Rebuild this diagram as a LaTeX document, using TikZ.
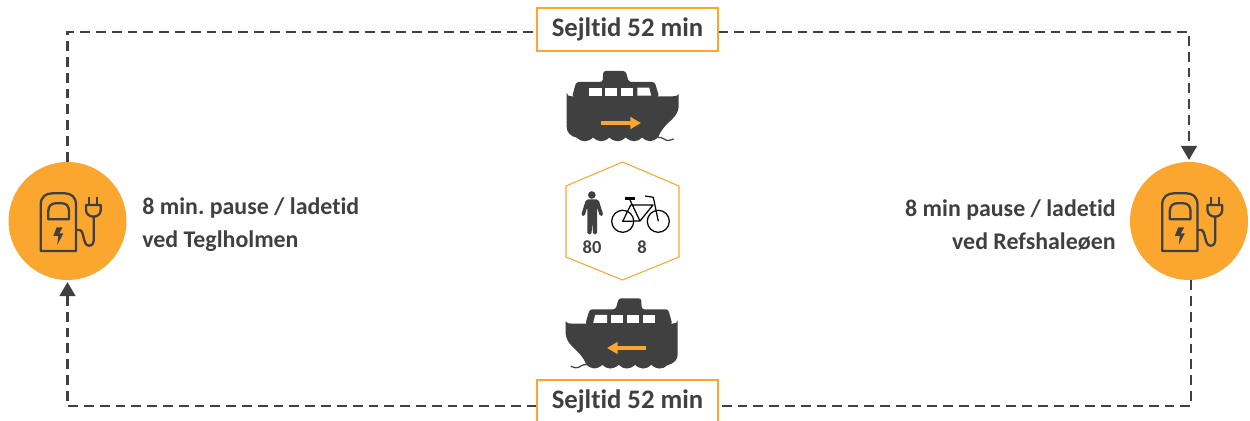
\documentclass[tikz,border=0pt]{standalone}
\usepackage{fontspec}
\setmainfont{Carlito}[Ligatures=NoCommon]
\usepackage{tikz}
\usetikzlibrary{arrows.meta}
\definecolor{ferrygrey}{HTML}{404040}
\definecolor{ferryorange}{HTML}{FBA72F}
\tikzstyle{chargenode} = [circle, fill=ferryorange, minimum size=2.36cm, inner sep=0pt]
\tikzstyle{timenode} = [draw=ferryorange, fill=white, line width=0.6pt, minimum width=3.62cm, minimum height=0.86cm, inner sep=0pt, text=ferrygrey, font=\fontsize{15.2}{18}\selectfont\bfseries]
\tikzstyle{pausenode} = [inner sep=0pt, text=ferrygrey, font=\fontsize{13.6}{18.8}\selectfont\bfseries\frenchspacing]
\tikzstyle{countnode} = [inner sep=0pt, text=ferrygrey, font=\fontsize{10.5}{12}\selectfont\bfseries]
\tikzstyle{routeline} = [draw=ferrygrey, line width=1.3pt, dash pattern=on 5.6pt off 3.4pt, -{Triangle[length=8pt,width=9pt]}]
\tikzstyle{routeplain} = [draw=ferrygrey, line width=1.3pt, dash pattern=on 5.6pt off 3.4pt]
\tikzstyle{boatarrow} = [draw=ferryorange, line width=2.3pt, -{Triangle[length=6pt,width=6.5pt]}]
\tikzset{
  boat/.pic={
    \fill[ferrygrey] (0,22) .. controls (0.5,24.5) and (2,25.3) .. (5,25.3) -- (106,25.3) .. controls (109,25.3) and (111,25) .. (112,23)
      -- (112,35.7) .. controls (111,46) and (102,50) .. (96.6,57.3) .. controls (94,60) and (93,63) .. (91.6,66)
      .. controls (86,71.5) and (81,71.5) .. (75.3,66.5) .. controls (70,71.5) and (65,71.5) .. (59,66.5)
      .. controls (54,71.5) and (48,71.5) .. (42.7,66.5) .. controls (37,71.5) and (32,71.5) .. (26.4,66.5)
      .. controls (21,71.5) and (15,71.5) .. (10,66.7) .. controls (3,65) and (0,61) .. (0,55.7) -- cycle;
    \fill[ferrygrey, rounded corners=1.5] (5.3,26) -- (9.5,11) -- (36,11) -- (36.5,0) -- (59,0) -- (62,11) -- (88,11) -- (92.5,26) -- cycle;
    \fill[white] (22.6,16.7) rectangle (35,24.7);
    \fill[white] (38.6,16.7) rectangle (50.6,24.7);
    \fill[white] (54.6,16.7) rectangle (66.6,24.7);
    \fill[white] (70.6,16.7) -- (82.5,16.7) -- (84.5,24.7) -- (70.6,24.7) -- cycle;
    \draw[ferrygrey, line width=0.7pt] (91,66.5) .. controls (95,65) and (98,70) .. (102,69.5) .. controls (104,69) and (105,68) .. (107,68);
  },
  charger/.pic={
    \draw[ferrygrey, line width=1.3pt, line join=round] (-26.8,30) -- (-26.8,-16) .. controls (-26.8,-24) and (-22,-27.7) .. (-15,-27.7) -- (-3,-27.7) .. controls (4,-27.7) and (8.5,-24) .. (8.5,-16) -- (8.5,30) -- cycle;
    \draw[ferrygrey, line width=1.3pt, line join=round] (-19.2,-1.7) -- (-19.2,-10) .. controls (-19.2,-15) and (-16,-17.7) .. (-12,-17.7) -- (-5.5,-17.7) .. controls (-1.5,-17.7) and (1.5,-15) .. (1.5,-10) -- (1.5,-1.7) -- cycle;
    \fill[ferrygrey] (-10.8,6.3) -- (-4.8,6.3) -- (-8.2,12.3) -- (-4.2,12.3) -- (-10.2,24) -- (-9.2,15) -- (-14.2,15) -- cycle;
    \draw[ferrygrey, line width=1.3pt] (8.5,9) -- (12,9) .. controls (17,9) and (15,24.7) .. (21.5,24.7) .. controls (25,24.7) and (26.3,22) .. (26.3,18) -- (26.3,-4.3);
    \draw[ferrygrey, line width=1.3pt, line join=round] (18.5,-16) -- (33.2,-16) -- (33.2,-11) .. controls (33.2,-7) and (30,-4.3) .. (26,-4.3) .. controls (22,-4.3) and (18.5,-7) .. (18.5,-11) -- cycle;
    \draw[ferrygrey, line width=1.3pt] (21.8,-23.7) -- (21.8,-16) (29.8,-23.7) -- (29.8,-16);
  }
}

\begin{document}
\begin{tikzpicture}[x=0.02cm,y=-0.02cm]
\useasboundingbox (0,0) rectangle (1250,421);

\node[chargenode] (charge_teg) at (67.5,221) {};
\node[chargenode] (charge_ref) at (1189,221) {};
\pic at (charge_teg) {charger};
\pic at (charge_ref) {charger};

\node[timenode] (time_top) at (627.5,29.5) {Sejltid 52 min};
\node[timenode] (time_bot) at (627.5,401.5) {Sejltid 52 min};

\node[pausenode, anchor=west, align=left] (pause_teg) at (142,225) {8 min. pause / ladetid\\ved Teglholmen};
\node[pausenode, anchor=east, align=right] (pause_ref) at (1116,225) {8 min pause / ladetid\\ved Refshaleøen};

\draw[routeplain] (charge_teg.north) |- ([yshift=-0.05cm]time_top.west);
\draw[routeline, shorten >=1pt] ([yshift=-0.05cm]time_top.east) -| (charge_ref.north);
\draw[routeplain] ([xshift=0.04cm]charge_ref.south) |- ([yshift=-0.09cm]time_bot.east);
\draw[routeline, shorten >=1pt] ([yshift=-0.09cm]time_bot.west) -| (charge_teg.south);

\pic at (566.7,71) {boat};
\pic[xscale=-1] at (677.7,298.3) {boat};
\draw[boatarrow] (601,123) -- (641,123);
\draw[boatarrow] (646,348) -- (607,348);

\draw[ferryorange, line width=0.6pt] (622.5,162) -- (679,186) -- (679,257) -- (622.5,280) -- (566,257) -- (566,186) -- cycle;

\fill[ferrygrey] (591.8,195) circle (3.8);
\fill[ferrygrey, rounded corners=1] (586,199.5) -- (598.5,199.5) -- (603.5,215.5) -- (600,216.5) -- (597,207) -- (597,234.5) -- (593,234.5) -- (592.3,221.5) -- (591.5,234.5) -- (587.3,234.5) -- (587.3,207) -- (584.5,216.5) -- (581,215.5) -- cycle;

\draw[black, line width=0.7pt, line join=round] (622.7,221.3) circle (11) (658.3,221.3) circle (11)
  (622.7,221.3) -- (640,221) -- (653,205) -- (630.7,205) -- cycle
  (629.5,199) -- (640,221)
  (645,196) -- (653.3,197.3) -- (658.3,221.3);
\draw[black, line width=1.4pt] (624.5,198.5) -- (634.5,198.5);

\node[countnode] (count_pass) at (592,247.5) {80};
\node[countnode] (count_bike) at (642,247.5) {8};
\end{tikzpicture}
\end{document}
